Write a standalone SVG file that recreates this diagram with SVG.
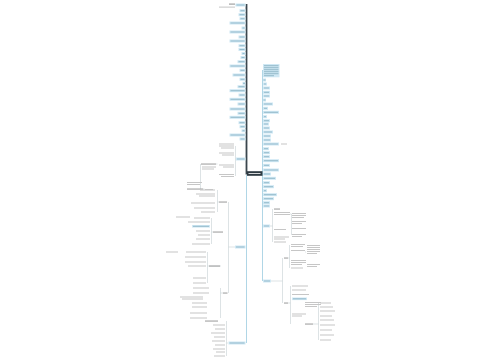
<svg xmlns="http://www.w3.org/2000/svg" width="500" height="360" viewBox="0 0 500 360">
<style>
.n{fill:#cfe8f4}
.nt{fill:#5b8da3;opacity:.5}
.g{fill:#c6c6c6}
.gd{fill:#a2a2a2}
.c{fill:none;stroke:#c6d0d4;stroke-width:.6}
.cb{fill:none;stroke:#9ccbe0;stroke-width:.8}
.tr{fill:none;stroke:#3a464e;stroke-width:1.8}
</style>
<rect width="500" height="360" fill="#ffffff"/>
<g id="connectors">
<path class="tr" d="M246.5,4 V173.5 H248"/>
<path class="cb" d="M262.5,70 V281"/>
<path class="cb" d="M246.5,175 V343"/>
<path class="c" d="M236,159 H235.5 M235.5,146 V176 M236,5 H235.5"/>
<path class="c" d="M235,247 H228.5 M228.5,202 V293 M219,202 H217.5 M217.5,190 V212 M213,232 H211.5 M211.5,218 V244 M221,266 H207.5 M207.5,252 V283 M223,293 H220.5 M220.5,288 V318"/>
<path class="c" d="M228,343 H226.5 M226.5,321 V356"/>
<path class="c" d="M270,226 H272.5 M272.5,209 V242 M290,214 H291.5 M291.5,214 V235"/>
<path class="c" d="M271,281 H282.5 M282.5,258 V303 M288,258 H289.5 M289.5,245 V268 M288,303 H290.5 M290.5,286 V324 M313,324 H318.5 M318.5,303 V340 M305,252 H306"/>
<path class="c" d="M216,164 H217.5 M203,189 H204.5 M200.5,164 V189"/>
</g>
<g id="top-note"><rect class="gd" x="229" y="3.5" width="6" height="1.2"/><rect class="g" x="219" y="6.6" width="16" height="1"/></g>
<g id="l1"><rect class="n" x="235.5" y="3.5" width="10" height="3"/><rect class="nt" x="236.5" y="4.5" width="8" height="1"/></g>
<g id="l2"><rect class="n" x="239.5" y="9.2" width="6" height="3"/><rect class="nt" x="240.5" y="10.2" width="4" height="1"/></g>
<g id="l3"><rect class="n" x="238.5" y="13.2" width="7" height="3"/><rect class="nt" x="239.5" y="14.2" width="5" height="1"/></g>
<g id="l4"><rect class="n" x="239.5" y="17.2" width="6" height="3"/><rect class="nt" x="240.5" y="18.2" width="4" height="1"/></g>
<g id="l5"><rect class="n" x="229.5" y="21.5" width="16" height="3"/><rect class="nt" x="230.5" y="22.5" width="14" height="1"/></g>
<g id="l6"><rect class="n" x="241.5" y="26.5" width="4" height="3"/><rect class="nt" x="242.5" y="27.5" width="2" height="1"/></g>
<g id="l7"><rect class="n" x="229.5" y="30.5" width="16" height="3"/><rect class="nt" x="230.5" y="31.5" width="14" height="1"/></g>
<g id="l8"><rect class="n" x="238.5" y="35.5" width="7" height="3"/><rect class="nt" x="239.5" y="36.5" width="5" height="1"/></g>
<g id="l9"><rect class="n" x="229.5" y="39.5" width="16" height="3"/><rect class="nt" x="230.5" y="40.5" width="14" height="1"/></g>
<g id="l10"><rect class="n" x="238.5" y="44.2" width="7" height="3"/><rect class="nt" x="239.5" y="45.2" width="5" height="1"/></g>
<g id="l11"><rect class="n" x="238.5" y="48" width="7" height="3"/><rect class="nt" x="239.5" y="49" width="5" height="1"/></g>
<g id="l12"><rect class="n" x="241.5" y="52" width="4" height="3"/><rect class="nt" x="242.5" y="53" width="2" height="1"/></g>
<g id="l13"><rect class="n" x="240.5" y="56" width="5" height="3"/><rect class="nt" x="241.5" y="57" width="3" height="1"/></g>
<g id="l14"><rect class="n" x="237.5" y="60.2" width="8" height="3"/><rect class="nt" x="238.5" y="61.2" width="6" height="1"/></g>
<g id="l15"><rect class="n" x="229.5" y="64.5" width="16" height="3"/><rect class="nt" x="230.5" y="65.5" width="14" height="1"/></g>
<g id="l16"><rect class="n" x="239.5" y="68.8" width="6" height="3"/><rect class="nt" x="240.5" y="69.8" width="4" height="1"/></g>
<g id="l17"><rect class="n" x="232.5" y="73.5" width="13" height="3"/><rect class="nt" x="233.5" y="74.5" width="11" height="1"/></g>
<g id="l18"><rect class="n" x="239.5" y="77.8" width="6" height="3"/><rect class="nt" x="240.5" y="78.8" width="4" height="1"/></g>
<g id="l19"><rect class="n" x="242.5" y="81.8" width="3" height="3"/><rect class="nt" x="243" y="82.8" width="2" height="1"/></g>
<g id="l20"><rect class="n" x="237.5" y="85.2" width="8" height="3"/><rect class="nt" x="238.5" y="86.2" width="6" height="1"/></g>
<g id="l21"><rect class="n" x="229.5" y="89.2" width="16" height="3"/><rect class="nt" x="230.5" y="90.2" width="14" height="1"/></g>
<g id="l22"><rect class="n" x="238.5" y="93.5" width="7" height="3"/><rect class="nt" x="239.5" y="94.5" width="5" height="1"/></g>
<g id="l23"><rect class="n" x="229.5" y="97.8" width="16" height="3"/><rect class="nt" x="230.5" y="98.8" width="14" height="1"/></g>
<g id="l24"><rect class="n" x="237.5" y="102.5" width="8" height="3"/><rect class="nt" x="238.5" y="103.5" width="6" height="1"/></g>
<g id="l25"><rect class="n" x="229.5" y="107.5" width="16" height="3"/><rect class="nt" x="230.5" y="108.5" width="14" height="1"/></g>
<g id="l26"><rect class="n" x="237.5" y="111.8" width="8" height="3"/><rect class="nt" x="238.5" y="112.8" width="6" height="1"/></g>
<g id="l27"><rect class="n" x="229.5" y="115.8" width="16" height="3"/><rect class="nt" x="230.5" y="116.8" width="14" height="1"/></g>
<g id="l28"><rect class="n" x="238.5" y="121.2" width="7" height="3"/><rect class="nt" x="239.5" y="122.2" width="5" height="1"/></g>
<g id="l29"><rect class="n" x="239.5" y="125.2" width="6" height="3"/><rect class="nt" x="240.5" y="126.2" width="4" height="1"/></g>
<g id="l30"><rect class="n" x="241.5" y="129.2" width="4" height="3"/><rect class="nt" x="242.5" y="130.2" width="2" height="1"/></g>
<g id="l31"><rect class="n" x="229.5" y="133.5" width="16" height="3"/><rect class="nt" x="230.5" y="134.5" width="14" height="1"/></g>
<g id="l32"><rect class="n" x="239.5" y="137.5" width="6" height="3"/><rect class="nt" x="240.5" y="138.5" width="4" height="1"/></g>
<g id="center"><rect x="247" y="171.2" width="15.5" height="4.6" fill="#2e3a42"/><rect x="248.5" y="173" width="12" height="1" fill="#ffffff" opacity=".8"/></g>
<g id="r-big"><rect class="n" x="263" y="64" width="16.5" height="13.3"/><rect class="nt" x="264" y="65.2" width="14.5" height="1"/><rect class="nt" x="264" y="67.2" width="14.5" height="1"/><rect class="nt" x="264" y="69.2" width="14.5" height="1"/><rect class="nt" x="264" y="71.2" width="14.5" height="1"/><rect class="nt" x="264" y="73.2" width="14.5" height="1"/><rect class="nt" x="264" y="75.2" width="10" height="1"/></g>
<g id="r1"><rect class="n" x="263" y="78.5" width="3" height="3"/><rect class="nt" x="263.5" y="79.5" width="2" height="1"/></g>
<g id="r2"><rect class="n" x="263" y="82.5" width="4" height="3"/><rect class="nt" x="264" y="83.5" width="2" height="1"/></g>
<g id="r3"><rect class="n" x="263" y="86.5" width="7" height="3"/><rect class="nt" x="264" y="87.5" width="5" height="1"/></g>
<g id="r4"><rect class="n" x="263" y="90.8" width="7" height="3"/><rect class="nt" x="264" y="91.8" width="5" height="1"/></g>
<g id="r5"><rect class="n" x="263" y="94.5" width="7" height="3"/><rect class="nt" x="264" y="95.5" width="5" height="1"/></g>
<g id="r6"><rect class="n" x="263" y="98.5" width="3" height="3"/><rect class="nt" x="263.5" y="99.5" width="2" height="1"/></g>
<g id="r7"><rect class="n" x="263" y="102.5" width="10" height="3"/><rect class="nt" x="264" y="103.5" width="8" height="1"/></g>
<g id="r8"><rect class="n" x="263" y="106.8" width="5" height="3"/><rect class="nt" x="264" y="107.8" width="3" height="1"/></g>
<g id="r9"><rect class="n" x="263" y="110.8" width="16" height="3"/><rect class="nt" x="264" y="111.8" width="14" height="1"/></g>
<g id="r10"><rect class="n" x="263" y="115.2" width="4" height="3"/><rect class="nt" x="264" y="116.2" width="2" height="1"/></g>
<g id="r11"><rect class="n" x="263" y="119.2" width="7" height="3"/><rect class="nt" x="264" y="120.2" width="5" height="1"/></g>
<g id="r12"><rect class="n" x="263" y="122.5" width="6" height="3"/><rect class="nt" x="264" y="123.5" width="4" height="1"/></g>
<g id="r13"><rect class="n" x="263" y="126.5" width="7" height="3"/><rect class="nt" x="264" y="127.5" width="5" height="1"/></g>
<g id="r14"><rect class="n" x="263" y="130.5" width="10" height="3"/><rect class="nt" x="264" y="131.5" width="8" height="1"/></g>
<g id="r15"><rect class="n" x="263" y="134.5" width="8" height="3"/><rect class="nt" x="264" y="135.5" width="6" height="1"/></g>
<g id="r16"><rect class="n" x="263" y="138.5" width="8" height="3"/><rect class="nt" x="264" y="139.5" width="6" height="1"/></g>
<g id="r17"><rect class="n" x="263" y="142.5" width="16" height="3"/><rect class="nt" x="264" y="143.5" width="14" height="1"/><rect class="g" x="281" y="143.5" width="6" height="1"/></g>
<g id="r18"><rect class="n" x="263" y="147.2" width="6" height="3"/><rect class="nt" x="264" y="148.2" width="4" height="1"/></g>
<g id="r19"><rect class="n" x="263" y="151.2" width="7" height="3"/><rect class="nt" x="264" y="152.2" width="5" height="1"/></g>
<g id="r20"><rect class="n" x="263" y="155.2" width="7" height="3"/><rect class="nt" x="264" y="156.2" width="5" height="1"/></g>
<g id="r21"><rect class="n" x="263" y="159.2" width="16" height="3"/><rect class="nt" x="264" y="160.2" width="14" height="1"/></g>
<g id="r22"><rect class="n" x="263" y="163.8" width="7" height="3"/><rect class="nt" x="264" y="164.8" width="5" height="1"/></g>
<g id="r23"><rect class="n" x="263" y="168.5" width="16" height="3"/><rect class="nt" x="264" y="169.5" width="14" height="1"/></g>
<g id="r24"><rect class="n" x="263" y="172.5" width="8" height="3"/><rect class="nt" x="264" y="173.5" width="6" height="1"/></g>
<g id="r25"><rect class="n" x="263" y="176.8" width="13" height="3"/><rect class="nt" x="264" y="177.8" width="11" height="1"/></g>
<g id="r26"><rect class="n" x="263" y="181.2" width="7" height="3"/><rect class="nt" x="264" y="182.2" width="5" height="1"/></g>
<g id="r27"><rect class="n" x="263" y="185.2" width="11" height="3"/><rect class="nt" x="264" y="186.2" width="9" height="1"/></g>
<g id="r28"><rect class="n" x="263" y="189.2" width="4" height="3"/><rect class="nt" x="264" y="190.2" width="2" height="1"/></g>
<g id="r29"><rect class="n" x="263" y="193.2" width="14" height="3"/><rect class="nt" x="264" y="194.2" width="12" height="1"/></g>
<g id="r30"><rect class="n" x="263" y="197.2" width="11" height="3"/><rect class="nt" x="264" y="198.2" width="9" height="1"/></g>
<g id="r31"><rect class="n" x="263" y="201.2" width="7" height="3"/><rect class="nt" x="264" y="202.2" width="5" height="1"/></g>
<g id="r32"><rect class="n" x="263" y="204.5" width="7" height="3"/><rect class="nt" x="264" y="205.5" width="5" height="1"/></g>
<g id="r-sub1"><rect class="n" x="263" y="224.5" width="7" height="3"/><rect class="nt" x="264" y="225.5" width="5" height="1"/></g>
<g id="r-sub1-kids"><rect class="gd" x="274" y="208.5" width="6" height="1.1"/><rect class="g" x="274" y="212" width="16" height="1"/><rect class="g" x="274" y="214" width="16" height="1"/><rect class="g" x="292" y="213" width="14" height="1"/><rect class="g" x="292" y="215" width="14" height="1"/><rect class="g" x="292" y="217" width="12" height="1"/><rect class="g" x="292" y="221" width="14" height="1"/><rect class="g" x="292" y="223" width="10" height="1"/><rect class="g" x="292" y="228" width="14" height="1"/><rect class="g" x="292" y="234" width="14" height="1"/><rect class="g" x="292" y="236" width="10" height="1"/><rect class="g" x="274" y="229" width="12" height="1"/><rect class="g" x="274" y="236.5" width="15" height="1"/><rect class="g" x="274" y="238.5" width="11" height="1"/><rect class="g" x="274" y="241.5" width="12" height="1"/></g>
<g id="r-sub2"><rect class="n" x="263" y="279.5" width="8" height="3"/><rect class="nt" x="264" y="280.5" width="6" height="1"/></g>
<g id="r-sub2-kids"><rect class="gd" x="284" y="257.5" width="4" height="1.1"/><rect class="g" x="291" y="244" width="14" height="1"/><rect class="g" x="291" y="246" width="12" height="1"/><rect class="g" x="291" y="250" width="14" height="1"/><rect class="g" x="291" y="260" width="15" height="1"/><rect class="g" x="291" y="262" width="15" height="1"/><rect class="g" x="291" y="264" width="11" height="1"/><rect class="g" x="291" y="267.5" width="12" height="1"/><rect class="g" x="307" y="245" width="13" height="1"/><rect class="g" x="307" y="247" width="13" height="1"/><rect class="g" x="307" y="249" width="13" height="1"/><rect class="g" x="307" y="251" width="13" height="1"/><rect class="g" x="307" y="253" width="10" height="1"/><rect class="g" x="307" y="264" width="13" height="1"/><rect class="g" x="307" y="266" width="10" height="1"/><rect class="gd" x="284" y="302.5" width="4" height="1.1"/><rect class="g" x="292" y="285.5" width="16" height="1"/><rect class="g" x="292" y="289.5" width="14" height="1"/><rect class="g" x="292" y="294" width="17" height="1"/><rect class="n" x="292" y="297.5" width="15" height="2.6"/><rect class="nt" x="293" y="298.3" width="13" height="1"/><rect class="g" x="305" y="302" width="16" height="1"/><rect class="g" x="305" y="304" width="16" height="1"/><rect class="g" x="305" y="306" width="12" height="1"/><rect class="g" x="292" y="313.5" width="14" height="1"/><rect class="g" x="292" y="315.5" width="10" height="1"/><rect class="gd" x="305" y="323.5" width="8" height="1.1"/><rect class="g" x="320" y="302.5" width="11" height="1"/><rect class="g" x="320" y="306.5" width="13" height="1"/><rect class="g" x="320" y="310.5" width="15" height="1"/><rect class="g" x="320" y="315.5" width="12" height="1"/><rect class="g" x="320" y="319.5" width="14" height="1"/><rect class="g" x="320" y="324.5" width="15" height="1"/><rect class="g" x="320" y="329.5" width="12" height="1"/><rect class="g" x="320" y="334.5" width="14" height="1"/><rect class="g" x="320" y="339.5" width="11" height="1"/></g>
<g id="l-sub1"><rect class="n" x="236" y="157.5" width="9.5" height="3"/><rect class="nt" x="237" y="158.5" width="7.5" height="1"/></g>
<g id="l-sub1-kids"><rect class="g" x="219" y="143.5" width="15" height="1"/><rect class="g" x="219" y="145.5" width="15" height="1"/><rect class="g" x="221" y="147.5" width="13" height="1"/><rect class="g" x="219" y="152.5" width="15" height="1"/><rect class="g" x="222" y="154.5" width="12" height="1"/><rect class="g" x="219" y="164.5" width="15" height="1"/><rect class="g" x="223" y="166.5" width="11" height="1"/><rect class="g" x="219" y="174" width="15" height="1"/><rect class="g" x="221" y="176" width="13" height="1"/><rect class="gd" x="201" y="163.5" width="15" height="1.1"/><rect class="g" x="202" y="166.5" width="14" height="1"/><rect class="g" x="202" y="168.5" width="12" height="1"/><rect class="g" x="187" y="182" width="15" height="1"/><rect class="g" x="187" y="184" width="13" height="1"/><rect class="gd" x="187" y="188.5" width="16" height="1.1"/><rect class="g" x="205" y="189" width="8" height="1"/></g>
<g id="l-sub2"><rect class="n" x="235" y="245.5" width="10.5" height="3"/><rect class="nt" x="236" y="246.5" width="8.5" height="1"/></g>
<g id="l-sub2-kids"><rect class="gd" x="219" y="201.5" width="8" height="1.1"/><rect class="g" x="200" y="189.5" width="15" height="1"/><rect class="g" x="196" y="193.5" width="19" height="1"/><rect class="g" x="199" y="195.5" width="16" height="1"/><rect class="g" x="191" y="202.5" width="24" height="1"/><rect class="g" x="194" y="207.5" width="21" height="1"/><rect class="g" x="201" y="211.5" width="14" height="1"/><rect class="gd" x="213" y="231.5" width="10" height="1.1"/><rect class="g" x="194" y="217.5" width="16" height="1"/><rect class="g" x="176" y="216.5" width="14" height="1"/><rect class="g" x="188" y="221.5" width="22" height="1"/><rect class="n" x="192" y="225" width="18" height="2.6"/><rect class="nt" x="193" y="225.8" width="16" height="1"/><rect class="g" x="196" y="230.5" width="14" height="1"/><rect class="g" x="198" y="234.5" width="12" height="1"/><rect class="g" x="196" y="238.5" width="14" height="1"/><rect class="g" x="192" y="243.5" width="18" height="1"/><rect class="gd" x="209" y="265.5" width="11" height="1.1"/><rect class="g" x="166" y="251.5" width="12" height="1"/><rect class="g" x="186" y="251.5" width="20" height="1"/><rect class="g" x="185" y="256.5" width="21" height="1"/><rect class="g" x="185" y="261.5" width="21" height="1"/><rect class="g" x="188" y="265.5" width="18" height="1"/><rect class="g" x="193" y="277.5" width="13" height="1"/><rect class="g" x="193" y="282.5" width="13" height="1"/><rect class="gd" x="223" y="292.5" width="4.5" height="1.1"/><rect class="g" x="193" y="287.5" width="16" height="1"/><rect class="g" x="193" y="292.5" width="16" height="1"/><rect class="g" x="180" y="296.5" width="23" height="1"/><rect class="g" x="182" y="298.5" width="21" height="1"/><rect class="g" x="192" y="302.5" width="15" height="1"/><rect class="g" x="192" y="306.5" width="15" height="1"/><rect class="g" x="190" y="312.5" width="17" height="1"/><rect class="g" x="190" y="317.5" width="17" height="1"/></g>
<g id="l-sub3"><rect class="n" x="228.5" y="341.5" width="17" height="3"/><rect class="nt" x="229.5" y="342.5" width="15" height="1"/></g>
<g id="l-sub3-kids"><rect class="gd" x="205" y="320.5" width="13" height="1.1"/><rect class="g" x="213" y="324.5" width="12" height="1"/><rect class="g" x="215" y="328.5" width="10" height="1"/><rect class="g" x="211" y="332.5" width="14" height="1"/><rect class="g" x="214" y="336.5" width="11" height="1"/><rect class="g" x="212" y="340.5" width="13" height="1"/><rect class="g" x="215" y="344.5" width="10" height="1"/><rect class="g" x="213" y="348.5" width="12" height="1"/><rect class="g" x="216" y="351.5" width="9" height="1"/><rect class="g" x="214" y="355.5" width="11" height="1"/></g>
</svg>
